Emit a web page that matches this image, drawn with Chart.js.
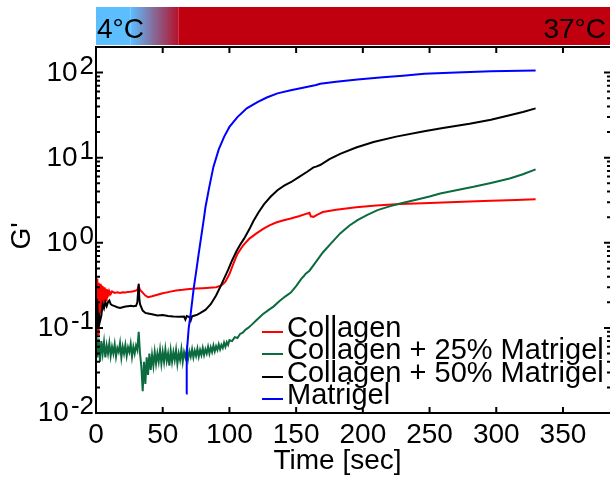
<!DOCTYPE html>
<html>
<head>
<meta charset="utf-8">
<script src="https://cdn.jsdelivr.net/npm/chart.js@4.4.0/dist/chart.umd.min.js"></script>
<style>
html, body { margin: 0; padding: 0; background: #fff; overflow: hidden; }
#caja { width: 620px; height: 480px; }
</style>
</head>
<body>
<div id="caja"><canvas id="graficoGel" width="620" height="480"></canvas></div>
<script>
// Datos: [tiempo (s), G']
const collagen = [[0,0.36],[0.5,0.1],[1,0.38],[1.5,0.085],[2,0.34],[2.5,0.12],[3,0.33],[3.5,0.15],[4,0.32],[4.5,0.17],
  [5,0.31],[5.5,0.19],[6,0.3],[6.5,0.2],[7,0.29],[7.5,0.21],[8,0.285],[8.5,0.225],[9,0.28],[9.5,0.235],[10,0.27],
  [11,0.25],[12,0.268],[14,0.258],[16,0.262],[18,0.258],[20,0.262],[22,0.26],[24,0.265],[26,0.266],[28,0.27],[30,0.275],
  [31,0.28],[32,0.31],[33,0.28],[35,0.26],[37,0.24],[39,0.23],[42,0.235],[46,0.245],[50,0.255],[55,0.265],[60,0.275],
  [65,0.28],[70,0.287],[75,0.29],[80,0.293],[85,0.296],[90,0.3],[94,0.315],[97,0.35],[100,0.43],[103,0.57],[106,0.74],
  [110,0.92],[115,1.12],[120,1.28],[125,1.45],[130,1.6],[135,1.73],[140,1.83],[146,1.93],[152,2.05],[158,2.2],[160,2.25],
  [161,2.05],[163,2.02],[166,2.15],[170,2.3],[180,2.45],[195,2.62],[210,2.74],[228,2.85],[245,2.92],[260,2.98],
  [280,3.06],[296,3.12],[315,3.18],[329.5,3.24]];

const collagen25 = [[0,0.1],[1,0.045],[2,0.075],[3,0.04],[4,0.07],[5,0.05],[6,0.068],[7,0.045],[8,0.062],[9,0.05],
  [10,0.066],[11,0.047],[12,0.06],[13,0.05],[14,0.064],[15,0.046],[16,0.058],[17,0.052],[18,0.066],[19,0.045],[20,0.06],
  [21,0.05],[22,0.063],[23,0.047],[24,0.059],[25,0.052],[26,0.065],[27,0.046],[28,0.06],[29,0.05],[30,0.062],[31,0.055],
  [32,0.09],[33,0.05],[34,0.035],[35,0.018],[36,0.04],[37,0.022],[38,0.045],[39,0.028],[40,0.05],[41,0.032],[42,0.048],
  [43,0.036],[44,0.052],[45,0.038],[46,0.05],[47,0.04],[48,0.055],[49,0.038],[50,0.052],[51,0.04],[52,0.056],[53,0.041],
  [54,0.05],[55,0.036],[56,0.054],[57,0.04],[58,0.052],[59,0.042],[60,0.055],[61,0.038],[62,0.05],[63,0.042],[64,0.056],
  [65,0.04],[66,0.052],[67,0.045],[68,0.055],[69,0.043],[70,0.053],[71,0.046],[72,0.056],[73,0.045],[74,0.054],[75,0.047],
  [76,0.057],[77,0.046],[78,0.055],[79,0.048],[80,0.058],[81,0.048],[82,0.056],[83,0.05],[84,0.06],[85,0.05],[86,0.059],
  [87,0.052],[88,0.062],[89,0.053],[90,0.061],[91,0.055],[92,0.064],[93,0.056],[94,0.063],[95,0.058],[96,0.067],[97,0.06],
  [98,0.068],[99,0.063],[100,0.072],[102,0.07],[104,0.078],[106,0.076],[108,0.085],[110,0.088],[112,0.095],[114,0.1],
  [117,0.11],[120,0.122],[125,0.145],[130,0.165],[133,0.178],[138,0.21],[142,0.235],[146,0.26],[150,0.31],[154,0.38],
  [156,0.41],[157,0.43],[160,0.47],[165,0.6],[170,0.77],[176,0.98],[183,1.29],[190,1.6],[196,1.85],[203,2.12],[211,2.42],
  [220,2.68],[228,2.9],[240,3.2],[250,3.5],[258,3.8],[270,4.15],[283,4.55],[296,5.05],[310,5.7],[320,6.4],[329.5,7.3]];

const collagen50 = [[0,0.22],[0.5,0.12],[1,0.2],[1.5,0.1],[2,0.15],[3,0.12],[4,0.14],[5,0.19],[6,0.17],[7,0.2],[8,0.18],
  [9,0.2],[10,0.21],[11,0.19],[12,0.185],[14,0.18],[16,0.175],[18,0.172],[20,0.175],[22,0.178],[24,0.18],[26,0.182],
  [28,0.18],[30,0.182],[31,0.2],[32,0.33],[32.5,0.22],[33,0.19],[35,0.16],[37,0.15],[39,0.148],[42,0.145],[46,0.14],
  [50,0.142],[54,0.138],[58,0.136],[62,0.135],[66,0.136],[67,0.125],[68,0.138],[70,0.134],[71,0.122],[72,0.137],[74,0.14],
  [76,0.143],[78,0.149],[82,0.163],[86,0.19],[90,0.24],[93,0.3],[96,0.38],[99,0.48],[102,0.62],[105,0.78],[108,0.95],
  [111,1.12],[115,1.45],[118,1.8],[122,2.3],[126,2.85],[131,3.5],[136,4.15],[141,4.7],[146,5.15],[152,5.9],[158,6.8],
  [163,7.7],[165,7.85],[168,8.2],[175,9.6],[183,11.1],[195,13.2],[208,15.3],[225,17.7],[246,20.5],[260,22.3],[280,25],
  [296,28],[310,31.5],[320,34.5],[329.5,38]];

const matrigel = [[67.5,0.017],[68,0.05],[69.5,0.1],[70.7,0.136],[72,0.2],[73.2,0.29],[75,0.45],[77,0.75],[78.5,1.08],
  [80.7,1.85],[82,2.6],[85,4.6],[88,7.8],[92,12.5],[96,17.6],[100,23],[106,30],[113,38],[121,45],[128,51],[136,57],
  [146,62],[156,67],[165,71.5],[168,74],[180,78],[196,83],[215,88],[230,92],[246,97],[270,100],[296,104],[329.5,106]];

const nombres = ['Collagen', 'Collagen + 25% Matrigel', 'Collagen + 50% Matrigel', 'Matrigel'];
const colores = ['#ff0000', '#0b6b3e', '#000000', '#0000ff'];
const ticksTiempo = [0, 50, 100, 150, 200, 250, 300, 350];
const exponentesG = [-2, -1, 0, 1, 2];
const temperaturas = ['4°C', '37°C'];
const rampaTemp = [26, 62]; // segundos donde cambia el color de la barra

const FUENTE = '"Liberation Sans", Arial, sans-serif';

// Barra de temperatura, marco, marcas, etiquetas y leyenda
const decorado = {
    id: 'decorado',
    beforeDraw(chart) {
        const { ctx, chartArea: a, scales: { x } } = chart;
        ctx.save();
        ctx.fillStyle = '#fff';
        ctx.fillRect(0, 0, chart.width, chart.height);
        const x1 = x.getPixelForValue(rampaTemp[0]);
        const x2 = x.getPixelForValue(rampaTemp[1]);
        ctx.fillStyle = '#5cbeff';
        ctx.fillRect(a.left, 7, x1 - a.left, 38);
        const grad = ctx.createLinearGradient(x1, 0, x2, 0);
        grad.addColorStop(0, '#5cbeff');
        grad.addColorStop(1, '#b5102a');
        ctx.fillStyle = grad;
        ctx.fillRect(x1, 7, x2 - x1, 38);
        ctx.fillStyle = '#c0000f';
        ctx.fillRect(x2, 7, chart.width - x2, 38);
        ctx.fillStyle = '#000';
        ctx.font = '28px ' + FUENTE;
        ctx.textBaseline = 'alphabetic';
        ctx.textAlign = 'left';
        ctx.fillText(temperaturas[0], a.left + 1, 38);
        ctx.textAlign = 'right';
        ctx.fillText(temperaturas[1], 606, 38);
        ctx.restore();
    },
    afterDraw(chart) {
        const { ctx, chartArea: a, scales: { x, y } } = chart;
        ctx.save();
        ctx.strokeStyle = '#000';
        ctx.lineWidth = 2;
        ctx.strokeRect(a.left, a.top, a.right - a.left, a.bottom - a.top);

        // marcas hacia dentro
        ctx.beginPath();
        ticksTiempo.forEach(t => {
            const px = x.getPixelForValue(t);
            ctx.moveTo(px, a.bottom); ctx.lineTo(px, a.bottom - 6);
            ctx.moveTo(px, a.top); ctx.lineTo(px, a.top + 6);
        });
        exponentesG.forEach(e => {
            for (let m = 1; m <= 9; m++) {
                const v = m * Math.pow(10, e);
                if (v > y.max) break;
                const py = y.getPixelForValue(v);
                const largo = m === 1 ? 7 : 4;
                ctx.moveTo(a.left, py); ctx.lineTo(a.left + largo, py);
                ctx.moveTo(a.right, py); ctx.lineTo(a.right - largo, py);
            }
        });
        ctx.stroke();

        // etiquetas eje x
        ctx.fillStyle = '#000';
        ctx.font = '28px ' + FUENTE;
        ctx.textAlign = 'center';
        ctx.textBaseline = 'alphabetic';
        ticksTiempo.forEach(t => ctx.fillText(String(t), x.getPixelForValue(t), 443));
        ctx.fillText('Time [sec]', x.getPixelForValue(181), 469);

        // etiquetas eje y (10 con exponente)
        ctx.textAlign = 'right';
        exponentesG.forEach(e => {
            const py = y.getPixelForValue(Math.pow(10, e));
            ctx.font = '26px ' + FUENTE;
            const txt = String(e);
            const ancho = ctx.measureText(txt).width;
            ctx.fillText(txt, 94, py + 1);
            ctx.font = '28px ' + FUENTE;
            ctx.fillText('10', 94 - ancho - 2, py + 8);
        });

        // título eje y
        ctx.save();
        ctx.translate(30, 236);
        ctx.rotate(-Math.PI / 2);
        ctx.textAlign = 'center';
        ctx.font = '28px ' + FUENTE;
        ctx.fillText("G'", 0, 0);
        ctx.restore();

        // leyenda
        const bases = [337, 359, 382, 404];
        ctx.font = '29px ' + FUENTE;
        ctx.textAlign = 'left';
        nombres.forEach((n, i) => {
            ctx.strokeStyle = colores[i];
            ctx.lineWidth = 2;
            ctx.beginPath();
            ctx.moveTo(262, bases[i] - 5);
            ctx.lineTo(283, bases[i] - 5);
            ctx.stroke();
            ctx.fillStyle = '#000';
            ctx.fillText(n, 287, bases[i]);
        });
        ctx.restore();
    }
};

const series = [collagen, collagen25, collagen50, matrigel];
const ordenDibujo = [3, 2, 1, 0];

const config = {
    type: 'line',
    data: {
        datasets: series.map((s, i) => ({
            label: nombres[i],
            data: s.map(p => ({ x: p[0], y: p[1] })),
            borderColor: colores[i],
            backgroundColor: colores[i],
            borderWidth: 2,
            pointRadius: 0,
            tension: 0,
            fill: false,
            order: ordenDibujo[i]
        }))
    },
    options: {
        responsive: false,
        animation: false,
        devicePixelRatio: 1,
        layout: { padding: { left: 96, right: 9, top: 47, bottom: 67 } },
        plugins: {
            legend: { display: false },
            tooltip: { enabled: false }
        },
        scales: {
            x: { type: 'linear', min: 0, max: 386, display: false },
            y: { type: 'logarithmic', min: 0.01, max: 200, display: false }
        }
    },
    plugins: [decorado]
};

const ctx = document.getElementById('graficoGel').getContext('2d');
const graficoGel = new Chart(ctx, config);
</script>
</body>
</html>
